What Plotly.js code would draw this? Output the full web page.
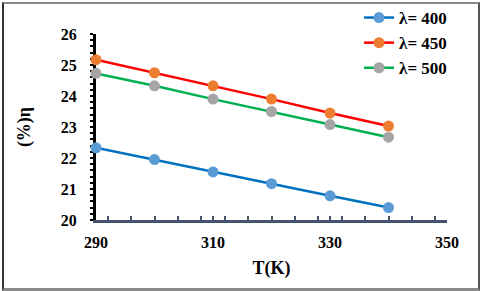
<!DOCTYPE html>
<html>
<head>
<meta charset="utf-8">
<script src="https://cdn.plot.ly/plotly-3.0.1.min.js"></script>
<style>
html,body{margin:0;padding:0;background:#fff;}
#wrap{position:relative;width:480px;height:291px;}
#chart{position:absolute;left:0;top:0;width:480px;height:291px;}
#chart text{font-family:'Liberation Serif','Times New Roman',serif !important;font-weight:bold !important;}
#frame{position:absolute;left:2px;top:2px;width:474px;height:284px;border-left:2px solid #333;border-top:2px solid #8a8a8a;border-right:2px solid #555;border-bottom:3px solid #8a8a8a;pointer-events:none;}
</style>
</head>
<body>
<div id="wrap"><div id="chart"></div><div id="frame"></div></div>
<script>
const temperatures = [290, 300, 310, 320, 330, 340];
const eta400 = [22.33, 21.95, 21.55, 21.17, 20.78, 20.40];
const eta450 = [25.17, 24.75, 24.33, 23.90, 23.45, 23.03];
const eta500 = [24.73, 24.33, 23.90, 23.50, 23.08, 22.67];
const seriesNames = ['λ= 400', 'λ= 450', 'λ= 500'];
const xTitle = 'T(K)';
const yTitle = '(%)η';

const font = 'Liberation Serif';
function tr(y, name, lineColor, markerColor){
  return {x: temperatures, y: y, name: name, type: 'scatter', mode: 'lines+markers',
    legendgroup: name,
    line: {color: lineColor, width: 2.5},
    marker: {color: markerColor, size: 11},
    cliponaxis: false};
}
const data = [
  tr(eta400, seriesNames[0], '#0070C0', '#5B9BD5'),
  tr(eta450, seriesNames[1], '#FF0000', '#ED7D31'),
  tr(eta500, seriesNames[2], '#00B050', '#A5A5A5')
];
const layout = {
  width: 480, height: 291,
  margin: {l: 96, r: 33, t: 34, b: 71, autoexpand: false},
  paper_bgcolor: '#fff', plot_bgcolor: '#fff',
  font: {family: font, color: '#000'},
  showlegend: true,
  legend: {xref: 'container', yref: 'container', x: 0.748, y: 1.0, xanchor: 'left', yanchor: 'top',
    font: {family: font, size: 17, weight: 700, color: '#000'},
    bgcolor: 'rgba(0,0,0,0)', tracegroupgap: 0},
  xaxis: {range: [290, 350], dtick: 20, tick0: 290, showgrid: false, zeroline: false,
    showline: true, linecolor: '#44546A', linewidth: 2.5, layer: 'below traces',
    ticks: 'inside', ticklen: 4, tickwidth: 2, tickcolor: '#44546A',
    minor: {dtick: 4, ticks: 'inside', ticklen: 4, tickwidth: 2, tickcolor: '#44546A', showgrid: false},
    ticklabelstandoff: 6,
    tickfont: {family: font, size: 16, weight: 700, color: '#000'},
    title: {text: xTitle, font: {family: font, size: 18, weight: 700, color: '#000'}, standoff: 12}},
  yaxis: {range: [20, 26], dtick: 1, showgrid: false, zeroline: false,
    showline: true, linecolor: '#000', linewidth: 3, layer: 'below traces',
    ticks: 'outside', ticklen: 3, tickwidth: 2, tickcolor: '#000',
    minor: {dtick: 0.2, ticks: 'outside', ticklen: 3, tickwidth: 2, tickcolor: '#000', showgrid: false},
    ticklabelstandoff: 10,
    tickfont: {family: font, size: 16, weight: 700, color: '#000'},
    title: {text: yTitle, font: {family: font, size: 18, weight: 700, color: '#000'}, standoff: 26}}
};
Plotly.newPlot('chart', data, layout, {displayModeBar: false, staticPlot: true});
</script>
</body>
</html>
